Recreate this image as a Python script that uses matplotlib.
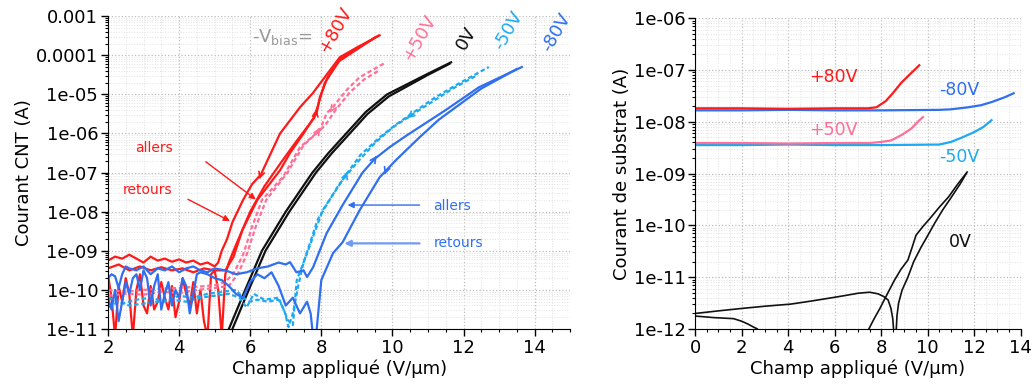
import numpy as np
import matplotlib
matplotlib.use('Agg')
import matplotlib.pyplot as plt
from matplotlib.ticker import MultipleLocator, LogLocator, FuncFormatter

# ---- data: left panel, courant CNT (log10 of A) vs champ (V/um) ----
red_ret_x = [2.0, 2.2, 2.4, 2.6, 2.8, 3.0, 3.2, 3.4, 3.6, 3.8, 4.0, 4.2, 4.4, 4.6, 4.8, 5.0, 5.1,
             5.2, 5.35, 5.5, 5.8, 6.05, 6.3, 6.84, 7.4, 7.76, 8.18, 8.52, 9.0, 9.64]
red_ret_y = [-9.25, -9.15, -9.2, -9.1, -9.2, -9.3, -9.15, -9.25, -9.2, -9.28, -9.22, -9.3, -9.25, -9.35, -9.3, -9.4, -9.3,
             -9.0, -8.7, -8.27, -7.7, -7.3, -7.05, -6.0, -5.33, -4.97, -4.46, -4.05, -3.8, -3.49]
red_all_x = [2.0, 2.3, 2.6, 2.9, 3.2, 3.5, 3.8, 4.1, 4.4, 4.7, 5.0, 5.3, 5.53, 5.78, 6.2, 6.84, 7.12, 7.5,
             7.87, 7.96, 8.18, 8.52, 9.0, 9.6]
red_all_y = [-9.45, -9.35, -9.5, -9.4, -9.5, -9.42, -9.5, -9.45, -9.55, -9.45, -9.5, -9.5, -9.16, -8.47, -7.7, -6.94, -6.5, -6.0,
             -5.48, -5.07, -4.56, -4.1, -3.83, -3.5]
red_noisy_x = [2.0, 2.1, 2.2, 2.3, 2.4, 2.5, 2.6, 2.7, 2.8, 2.9, 3.0, 3.1, 3.2, 3.3, 3.4, 3.5, 3.6, 3.7, 3.8, 3.9,
               4.0, 4.1, 4.2, 4.3, 4.4, 4.5, 4.6, 4.7, 4.8, 4.9, 5.0, 5.1, 5.2, 5.3, 5.4,
               5.6, 6.0, 6.4, 6.9, 7.3, 7.8, 8.1, 8.5, 9.0, 9.5]
red_noisy_y = [-9.6, -10.2, -11.2, -9.9, -10.3, -9.7, -10.1, -11.2, -10.0, -9.6, -10.4, -10.6, -9.9, -10.5, -10.3, -9.8, -10.2, -10.5, -9.9, -10.7,
               -10.3, -9.7, -10.1, -10.4, -9.8, -10.6, -10.0, -10.8, -11.2, -9.6, -9.5, -10.0, -11.2, -9.6, -9.3,
               -8.85, -8.0, -7.35, -6.7, -6.2, -5.6, -4.7, -4.15, -3.85, -3.55]

pink1_x = [2.0, 2.5, 3.0, 3.5, 4.0, 4.5, 5.0, 5.3, 5.55, 5.8, 6.05, 6.33, 6.93, 7.4, 7.96, 8.15, 8.32, 8.71, 9.08, 9.78]
pink1_y = [-10.0, -10.05, -10.0, -9.97, -9.95, -9.92, -9.88, -9.8, -9.55, -9.1, -8.4, -7.7, -7.1, -6.35, -5.92, -5.48, -5.33, -4.89, -4.56, -4.2]
pink2_x = [2.0, 2.5, 3.0, 3.5, 4.0, 4.5, 5.0, 5.4, 5.65, 5.9, 6.15, 6.45, 7.05, 7.5, 8.1, 8.4, 8.8, 9.2, 9.6]
pink2_y = [-10.15, -10.1, -10.12, -10.05, -10.08, -10.0, -9.95, -9.9, -9.6, -9.1, -8.4, -7.7, -7.0, -6.3, -5.8, -5.4, -4.95, -4.62, -4.4]

black1_x = [5.3, 5.4, 5.86, 6.33, 7.0, 7.75, 8.2, 8.7, 9.25, 9.85, 10.5, 11.0, 11.65]
black1_y = [-11.2, -11.0, -10.0, -9.0, -8.0, -7.0, -6.5, -6.0, -5.45, -5.0, -4.7, -4.47, -4.18]
black2_x = [5.4, 5.5, 5.96, 6.43, 7.1, 7.85, 8.3, 8.8, 9.3, 9.9, 10.5, 11.0, 11.6]
black2_y = [-11.2, -11.0, -10.0, -9.0, -8.0, -7.0, -6.5, -6.0, -5.5, -5.05, -4.75, -4.5, -4.22]

lblue1_x = [2.0, 2.3, 2.6, 3.0, 3.4, 3.8, 4.2, 4.6, 5.0, 5.4, 5.7, 5.9, 6.1, 6.4, 6.8, 7.06, 7.2,
            7.31, 7.6, 8.04, 8.7, 9.1, 9.64, 10.1, 10.56, 11.2, 11.87, 12.71]
lblue1_y = [-10.45, -10.3, -10.4, -10.35, -10.3, -10.25, -10.3, -10.2, -10.15, -10.1, -10.2, -10.45, -10.1, -10.25, -10.2, -10.77, -10.9,
            -9.75, -9.06, -7.96, -7.05, -6.55, -6.1, -5.77, -5.48, -5.08, -4.72, -4.3]
lblue2_x = [2.0, 2.4, 2.8, 3.2, 3.6, 4.0, 4.4, 4.8, 5.2, 5.6, 5.8, 6.0, 6.2, 6.5, 6.8, 6.95, 7.08, 7.2,
            7.35, 7.5, 7.9, 8.5, 9.0, 9.5, 10.0, 10.5, 11.1, 11.7, 12.4]
lblue2_y = [-10.2, -10.35, -10.25, -10.2, -10.3, -10.15, -10.2, -10.1, -10.05, -10.0, -10.2, -10.3, -10.25, -10.3, -10.25, -10.5, -10.95, -10.6,
            -9.9, -9.3, -8.2, -7.3, -6.75, -6.25, -5.85, -5.55, -5.2, -4.85, -4.5]

blueA_x = [2.0, 2.1, 2.2, 2.3, 2.4, 2.5, 2.6, 2.8, 3.0, 3.2, 3.4, 3.6, 3.8, 4.0, 4.2, 4.4, 4.6, 4.8, 5.0, 5.3, 5.6,
           5.9, 6.2, 6.5, 6.8, 7.0, 7.12, 7.3, 7.5, 7.6, 7.77, 8.15, 8.6, 9.16, 9.5, 9.92, 10.4, 10.84, 11.5, 12.43, 13.64]
blueA_y = [-9.7, -9.6, -9.65, -9.95, -9.6, -9.4, -9.45, -9.5, -9.4, -9.6, -9.45, -9.5, -9.4, -9.55, -9.45, -9.4, -9.5, -9.55, -9.45, -9.5, -9.6,
           -9.55, -9.45, -9.4, -9.3, -9.35, -9.29, -9.55, -9.5, -9.67, -9.42, -8.55, -7.83, -7.0, -6.65, -6.35, -6.05, -5.79, -5.4, -4.82, -4.3]
blueB_x = [2.0, 2.1, 2.2, 2.3, 2.4, 2.5, 2.6, 2.7, 2.8, 2.9, 3.0, 3.1, 3.2, 3.3, 3.4, 3.5, 3.6, 3.7, 3.8, 3.9, 4.0,
           4.1, 4.2, 4.3, 4.4, 4.5, 4.6, 4.8, 5.0, 5.2, 5.4, 5.6, 5.8, 6.0, 6.2, 6.4, 6.6, 6.8, 7.0, 7.2, 7.4,
           7.6, 7.7, 7.77, 7.85, 8.0, 8.33, 8.6, 9.08, 9.64, 10.1, 10.76, 11.3, 12.5, 13.5]
blueB_y = [-10.2, -10.5, -10.0, -10.8, -10.3, -9.8, -10.1, -9.7, -9.6, -10.0, -9.5, -9.7, -10.4, -9.9, -9.6, -10.5, -10.1, -9.8, -10.4, -10.0, -10.2,
           -9.7, -9.9, -10.6, -10.1, -9.6, -9.55, -9.6, -9.7, -9.75, -9.9, -10.1, -10.2, -9.8, -9.6, -9.7, -9.55, -9.9, -10.4, -10.2, -10.6,
           -10.3, -10.6, -11.2, -11.2, -9.75, -9.06, -8.78, -7.96, -7.12, -6.68, -6.1, -5.65, -4.85, -4.35]

# arrowheads drawn on the curves: (x, log10 I, dx, dlog, colour)
curve_heads = [
    (6.3, -7.05, -0.04, -0.12, '#ff1a1a'),
    (7.84, -5.5, 0.02, 0.12, '#ff1a1a'),
    (7.9, -5.95, 0.06, 0.1, '#ff6f96'),
    (8.3, -5.38, -0.06, -0.08, '#ff6f96'),
    (8.68, -7.1, 0.05, 0.12, '#1eaaf0'),
    (10.5, -5.55, -0.08, -0.06, '#1eaaf0'),
    (9.5, -6.65, 0.06, 0.08, '#2f6ff0'),
    (9.82, -6.95, -0.04, -0.1, '#2f6ff0'),
]

# ---- data: right panel, courant de substrat ----
sub_red_x = [0.0, 2.0, 4.0, 6.0, 7.43, 7.8, 8.2, 8.5, 8.86, 9.2, 9.64]
sub_red_y = [-7.74, -7.74, -7.75, -7.74, -7.74, -7.72, -7.6, -7.45, -7.25, -7.1, -6.91]
sub_blue_x = [0.0, 2.0, 4.0, 6.0, 8.0, 10.5, 11.0, 11.75, 12.3, 12.75, 13.3, 13.7]
sub_blue_y = [-7.78, -7.78, -7.77, -7.78, -7.78, -7.77, -7.76, -7.72, -7.68, -7.62, -7.53, -7.45]
sub_pink_x = [0.0, 2.0, 4.0, 6.0, 7.5, 8.0, 8.43, 8.9, 9.3, 9.6, 9.8]
sub_pink_y = [-8.41, -8.41, -8.42, -8.41, -8.41, -8.39, -8.36, -8.25, -8.13, -7.99, -7.91]
sub_lblue_x = [0.0, 2.0, 4.0, 6.0, 8.0, 10.5, 11.0, 11.5, 12.0, 12.4, 12.75]
sub_lblue_y = [-8.45, -8.45, -8.44, -8.45, -8.45, -8.44, -8.39, -8.3, -8.2, -8.1, -7.97]
sub_blk1_x = [0.0, 1.0, 2.07, 3.0, 4.1, 5.0, 5.97, 6.5, 7.0, 7.5, 7.86, 8.1, 8.3, 8.42, 8.5, 8.55,
              8.64, 8.68, 8.75, 8.9, 9.15, 9.4, 9.72, 10.0, 10.3, 10.65, 11.0, 11.4, 11.7]
sub_blk1_y = [-11.7, -11.65, -11.6, -11.56, -11.52, -11.46, -11.39, -11.35, -11.31, -11.29, -11.32, -11.37, -11.44, -11.6, -11.8, -12.1,
              -12.1, -11.75, -11.5, -11.25, -11.0, -10.7, -10.42, -10.2, -9.96, -9.7, -9.47, -9.2, -8.97]
sub_blk2_x = [0.0, 0.8, 1.65, 2.0, 2.25, 2.5, 2.68, 2.8, 7.4, 7.47, 7.7, 7.95, 8.13, 8.35, 8.57, 8.85, 9.15, 9.35, 9.5,
              9.8, 10.15, 10.5, 10.9, 11.3, 11.65]
sub_blk2_y = [-11.75, -11.78, -11.8, -11.85, -11.9, -11.96, -12.0, -12.3, -12.3, -12.0, -11.8, -11.6, -11.44, -11.25, -11.06, -10.85, -10.67, -10.4, -10.19,
              -10.02, -9.84, -9.65, -9.45, -9.2, -9.0]

RED, PINK, BLACK, LBLUE, BLUE = '#ff1a1a', '#ff6f96', '#111111', '#1eaaf0', '#2f6ff0'


def I(v):
    return 10.0 ** np.array(v)


def logfmt(v, pos):
    e = int(round(np.log10(v)))
    if e >= -4:
        return '%.*f' % (-e, v)
    return '1e-%02d' % (-e)


def style(ax):
    ax.set_yscale('log')
    for s in ('top', 'right'):
        ax.spines[s].set_visible(False)
    ax.xaxis.set_major_locator(MultipleLocator(2))
    ax.xaxis.set_minor_locator(MultipleLocator(0.5))
    ax.yaxis.set_major_locator(LogLocator(base=10, numticks=20))
    ax.yaxis.set_minor_locator(LogLocator(base=10, subs=np.arange(2, 10), numticks=20))
    ax.yaxis.set_major_formatter(FuncFormatter(logfmt))
    ax.tick_params(which='major', length=5, width=1, labelsize=13, pad=2)
    ax.tick_params(which='minor', length=2.5, width=0.8)
    ax.grid(which='major', color='#bdbdbd', linestyle=':', linewidth=0.9)
    ax.grid(which='minor', color='#e2e2e2', linestyle=':', linewidth=0.7)
    ax.set_axisbelow(True)


fig = plt.figure(figsize=(10.33, 3.92), dpi=100)
ax1 = fig.add_axes([0.1045, 0.1607, 0.4475, 0.798])
ax2 = fig.add_axes([0.673, 0.1607, 0.315, 0.793])
style(ax1)
style(ax2)

# left panel
lw = 1.6
ax1.plot(red_noisy_x, I(red_noisy_y), color=RED, lw=lw)
ax1.plot(red_ret_x, I(red_ret_y), color=RED, lw=lw)
ax1.plot(red_all_x, I(red_all_y), color=RED, lw=lw)
ax1.plot(pink1_x, I(pink1_y), color=PINK, lw=lw, ls=(0, (2, 1.2)))
ax1.plot(pink2_x, I(pink2_y), color=PINK, lw=lw, ls=(0, (2, 1.2)))
ax1.plot(black1_x, I(black1_y), color=BLACK, lw=lw)
ax1.plot(black2_x, I(black2_y), color=BLACK, lw=lw)
ax1.plot(lblue1_x, I(lblue1_y), color=LBLUE, lw=lw, ls=(0, (2, 1.2)))
ax1.plot(lblue2_x, I(lblue2_y), color=LBLUE, lw=lw, ls=(0, (2, 1.2)))
ax1.plot(blueB_x, I(blueB_y), color=BLUE, lw=lw)
ax1.plot(blueA_x, I(blueA_y), color=BLUE, lw=lw)

for x, ly, dx, dly, c in curve_heads:
    ax1.annotate('', xy=(x + dx, 10 ** (ly + dly)), xytext=(x, 10 ** ly),
                 arrowprops=dict(arrowstyle='->', color=c, lw=1.2, mutation_scale=10))

ax1.set_xlim(2, 15)
ax1.set_ylim(1e-11, 1e-3)
ax1.set_xlabel('Champ appliqué (V/µm)', fontsize=13, labelpad=2)
ax1.set_ylabel('Courant CNT (A)', fontsize=13, labelpad=2)

ax1.text(6.05, 10 ** -3.54, r'-V$_{\mathregular{bias}}$=', color='#999999', fontsize=13, va='center', ha='left')
for txt, x, ly, c in [('+80V', 8.38, -3.36, RED), ('+50V', 10.75, -3.56, PINK), ('0V', 12.07, -3.56, BLACK),
                      ('-50V', 13.27, -3.36, LBLUE), ('-80V', 14.6, -3.43, BLUE)]:
    ax1.text(x, 10 ** ly, txt, color=c, fontsize=13, rotation=60, ha='center', va='center')

ax1.text(3.29, 10 ** -6.38, 'allers', color=RED, fontsize=10, ha='center', va='center')
ax1.text(3.12, 10 ** -7.45, 'retours', color=RED, fontsize=10, ha='center', va='center')
ax1.annotate('', xy=(6.22, 10 ** -7.73), xytext=(4.69, 10 ** -6.68),
             arrowprops=dict(arrowstyle='-|>', color=RED, lw=1, mutation_scale=9))
ax1.annotate('', xy=(5.5, 10 ** -8.27), xytext=(4.18, 10 ** -7.65),
             arrowprops=dict(arrowstyle='-|>', color=RED, lw=1, mutation_scale=9))
ax1.text(11.68, 10 ** -7.86, 'allers', color=BLUE, fontsize=10, ha='center', va='center')
ax1.text(11.87, 10 ** -8.81, 'retours', color=BLUE, fontsize=10, ha='center', va='center')
ax1.annotate('', xy=(8.66, 10 ** -7.83), xytext=(10.84, 10 ** -7.83),
             arrowprops=dict(arrowstyle='-|>', color=BLUE, lw=1, mutation_scale=9))
ax1.annotate('', xy=(8.57, 10 ** -8.81), xytext=(10.84, 10 ** -8.81),
             arrowprops=dict(arrowstyle='-|>', color='#6f9af5', lw=1.6, mutation_scale=9))

# right panel
ax2.plot(sub_blue_x, I(sub_blue_y), color=BLUE, lw=1.6)
ax2.plot(sub_red_x, I(sub_red_y), color=RED, lw=1.6)
ax2.plot(sub_lblue_x, I(sub_lblue_y), color=LBLUE, lw=1.6)
ax2.plot(sub_pink_x, I(sub_pink_y), color=PINK, lw=1.6)
ax2.plot(sub_blk1_x, I(sub_blk1_y), color=BLACK, lw=1.2)
ax2.plot(sub_blk2_x, I(sub_blk2_y), color=BLACK, lw=1.2)
ax2.set_xlim(0, 14)
ax2.set_ylim(1e-12, 1e-6)
ax2.set_xlabel('Champ appliqué (V/µm)', fontsize=13, labelpad=2)
ax2.set_ylabel('Courant de substrat (A)', fontsize=13, labelpad=2)
for txt, x, ly, c in [('+80V', 4.9, -7.14, RED), ('+50V', 4.9, -8.16, PINK), ('-80V', 10.5, -7.39, BLUE),
                      ('-50V', 10.5, -8.68, LBLUE), ('0V', 10.9, -10.32, BLACK)]:
    ax2.text(x, 10 ** ly, txt, color=c, fontsize=12.5, ha='left', va='center')

fig.savefig('out.png', dpi=100)
